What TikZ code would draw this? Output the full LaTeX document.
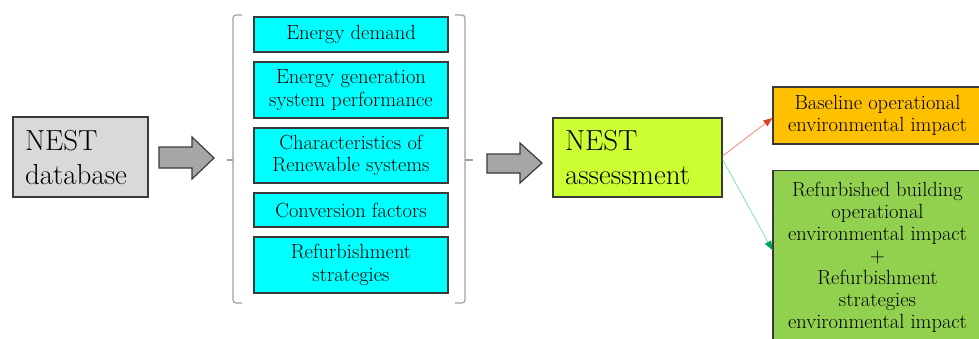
\documentclass[tikz,border=0pt]{standalone}
\usepackage{fontspec}
\usetikzlibrary{arrows.meta,calc}
\definecolor{cyanbox}{HTML}{00FFFF}
\definecolor{graybox}{HTML}{D9D9D9}
\definecolor{limebox}{HTML}{CCFF33}
\definecolor{orangebox}{HTML}{FFC000}
\definecolor{greenbox}{HTML}{92D050}
\definecolor{bordergray}{HTML}{3A3A3A}
\definecolor{arrowgray}{HTML}{A6A6A6}
\definecolor{bracegray}{HTML}{A0A0A0}
\definecolor{redline}{HTML}{F4876E}
\definecolor{redtip}{HTML}{D9441E}
\definecolor{greenline}{HTML}{7FE3B5}
\definecolor{greentip}{HTML}{00A550}
\begin{document}
\begin{tikzpicture}[x=1pt,y=-1pt,
  box/.style={draw=bordergray, line width=1.2pt, inner sep=0pt, align=center},
  itembox/.style={box, fill=cyanbox, minimum width=194pt, font=\fontsize{20.5}{22.5}\selectfont},
  bigbox/.style={box, align=left, inner xsep=12pt, inner ysep=0pt, font=\fontsize{29}{34}\selectfont},
  resultbox/.style={box, minimum width=209pt, font=\fontsize{20.5}{22}\selectfont},
  bracestyle/.style={draw=bracegray, line width=1.2pt, rounded corners=3pt},
  blockarrow/.style={draw=bordergray, fill=arrowgray, line width=1.2pt, line join=miter},
]
\useasboundingbox (0,0) rectangle (979,338);
\clip (0,0) rectangle (979,338);

% left box
\node[bigbox, fill=graybox, text width=111pt, minimum height=80pt] (db) at (80.5,157) {NEST\\database};

% block arrow 1
\draw[blockarrow] (159,147) -- (192,147) -- (192,137) -- (214,158) -- (192,179) -- (192,168) -- (159,168) -- cycle;

% brackets
\draw[bracestyle] (242,15) -- (233,15) -- (233,303) -- (242,303);
\draw[bracegray, line width=1.2pt] (227,160) -- (233,160);
\draw[bracestyle] (455,15) -- (465,15) -- (465,303) -- (455,303);
\draw[bracegray, line width=1.2pt] (465,160) -- (473,160);

% item boxes
\node[itembox, minimum height=35pt] (demand) at (351,34.5) {Energy demand};
\node[itembox, minimum height=56pt] (gen) at (351,90) {Energy generation\\system performance};
\node[itembox, minimum height=55pt] (renew) at (351,155.5) {Characteristics of\\Renewable systems};
\node[itembox, minimum height=34pt] (conv) at (351,210) {Conversion factors};
\node[itembox, minimum height=56pt] (refstrat) at (351,265) {Refurbishment\\strategies};

% block arrow 2
\draw[blockarrow] (487,154) -- (520,154) -- (520,143) -- (542,163) -- (520,183) -- (520,173) -- (487,173) -- cycle;

% assessment box
\node[bigbox, fill=limebox, text width=145pt, minimum height=79pt] (assess) at (637.5,157.5) {NEST\\assessment};

% result boxes
\node[resultbox, fill=orangebox, minimum height=57pt] (base) at (877.5,115.5) {Baseline operational\\environmental impact};
\node[resultbox, fill=greenbox, minimum height=173pt] (refurb) at (877.5,257) {Refurbished building\\operational\\environmental impact\\+\\Refurbishment\\strategies\\environmental impact};

% connectors
\draw[redline, line width=0.8pt, -{Triangle[length=9pt,width=7pt,color=redtip]}] ($(assess.east)+(0,-1.5)$) -- ($(base.west)+(0,2.5)$);
\draw[greenline, line width=0.8pt, -{Triangle[length=9pt,width=7pt,color=greentip]}] ($(assess.east)+(0,2)$) -- ($(refurb.north west)!0.46!(refurb.south west)$);
\end{tikzpicture}
\end{document}
